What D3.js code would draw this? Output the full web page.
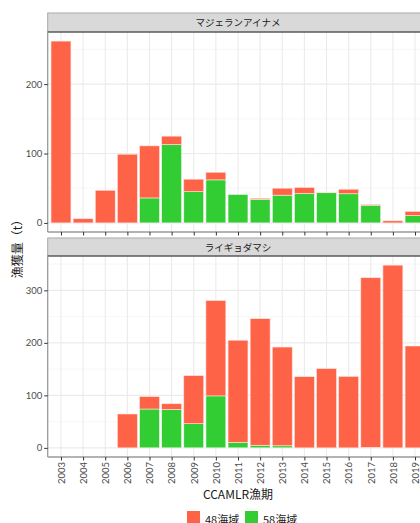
<!DOCTYPE html>
<html>
<head>
<meta charset="utf-8">
<script src="https://cdn.jsdelivr.net/npm/d3@7"></script>
<style>
  body { margin: 0; background: #fff; overflow: hidden; }
  svg { display: block; font-family: "Noto Sans CJK JP", "Lato", sans-serif; }
</style>
</head>
<body>
<svg id="chart" width="420" height="523"></svg>
<script>
// data
let years = [2003, 2004, 2005, 2006, 2007, 2008, 2009, 2010, 2011, 2012, 2013, 2014, 2015, 2016, 2017, 2018, 2019];
let toothfish48 = [262, 6, 47, 99, 75, 12, 18, 11, 0, 1.5, 10, 8.5, 0.5, 6.5, 1, 3, 6];
let toothfish58 = [0, 0, 0, 0, 36, 113, 45, 62, 41, 34, 40, 42.5, 43.5, 42, 25.5, 0, 10.5];
let icefish48 = [0, 0, 0, 64.5, 23.5, 11, 91.5, 181.5, 194.5, 241, 188, 135.5, 151, 136, 323, 348, 194];
let icefish58 = [0, 0, 0, 0, 74, 73, 46, 99, 10.5, 5, 4, 0, 0, 0, 1, 0, 0];
let panelTitles = ["マジェランアイナメ", "ライギョダマシ"];
let areaNames = ["48海域", "58海域"];
let topTicks = [0, 100, 200];
let bottomTicks = [0, 100, 200, 300];

let colors = { a48: "#FF6347", a58: "#32CD32" };

let svg = d3.select("#chart");
let left = 47.7, right = 428.3;

let step = (right - left) / (years.length - 1 + 1.2);
let x = d3.scalePoint().domain(years).range([left + 0.6 * step, right - 0.6 * step]);
let barW = step * 0.9;

function drawPanel(stripTop, stripH, panelBottom, title, v48, v58, ticks, drawXAxis) {
    let panelTop = stripTop + stripH;
    let totals = v48.map((d, i) => d + v58[i]);
    let maxV = d3.max(totals);
    let y = d3.scaleLinear().domain([-maxV * 0.05, maxV * 1.05]).range([panelBottom, panelTop]);

    let g = svg.append("g");

    // grid
    let minor = d3.range(50, maxV * 1.05, 100);
    g.selectAll("line.minor").data(minor).enter().append("line")
        .attr("x1", left).attr("x2", right)
        .attr("y1", d => y(d)).attr("y2", d => y(d))
        .attr("stroke", "#F2F2F2").attr("stroke-width", 0.6);
    g.selectAll("line.major").data(ticks).enter().append("line")
        .attr("x1", left).attr("x2", right)
        .attr("y1", d => y(d)).attr("y2", d => y(d))
        .attr("stroke", "#EBEBEB").attr("stroke-width", 1.1);
    g.selectAll("line.vgrid").data(years).enter().append("line")
        .attr("x1", d => x(d)).attr("x2", d => x(d))
        .attr("y1", panelTop).attr("y2", panelBottom)
        .attr("stroke", "#EBEBEB").attr("stroke-width", 1.1);

    // stacked bars: 58 at bottom, 48 on top
    let rows = years.map((yr, i) => ({ year: yr, a58: v58[i], a48: v48[i] }));
    g.selectAll("rect.b58").data(rows.filter(d => d.a58 > 0)).enter().append("rect")
        .attr("x", d => x(d.year) - barW / 2).attr("width", barW)
        .attr("y", d => y(d.a58)).attr("height", d => y(0) - y(d.a58))
        .attr("fill", colors.a58).attr("stroke", "#F5F5F5").attr("stroke-width", 0.6);
    g.selectAll("rect.b48").data(rows.filter(d => d.a48 > 0)).enter().append("rect")
        .attr("x", d => x(d.year) - barW / 2).attr("width", barW)
        .attr("y", d => y(d.a58 + d.a48)).attr("height", d => y(d.a58) - y(d.a58 + d.a48))
        .attr("fill", colors.a48).attr("stroke", "#FDE3DE").attr("stroke-width", 0.6);

    // strip
    g.append("rect").attr("x", left).attr("y", stripTop).attr("width", right - left + 2).attr("height", stripH)
        .attr("fill", "#D9D9D9").attr("stroke", "#A9A9A9").attr("stroke-width", 1);
    g.append("line").attr("x1", left).attr("x2", right + 2).attr("y1", panelTop).attr("y2", panelTop)
        .attr("stroke", "#333").attr("stroke-width", 1.1);
    g.append("text").attr("x", (left + right) / 2).attr("y", stripTop + stripH / 2 + 3.5)
        .attr("text-anchor", "middle").attr("font-size", 9.5).attr("fill", "#1A1A1A").text(title);

    // axes
    let yAxis = g.append("g").attr("transform", "translate(" + left + ",0)")
        .call(d3.axisLeft(y).tickValues(ticks).tickSize(3.5).tickPadding(2));
    yAxis.select(".domain").attr("d", "M0," + panelTop + "V" + panelBottom).attr("stroke", "#9A9A9A").attr("stroke-width", 1.3);
    yAxis.selectAll(".tick line").attr("stroke", "#333");
    yAxis.selectAll("text").attr("font-size", 9.5).attr("fill", "#4D4D4D").attr("font-family", "Lato, sans-serif");

    let xAxis = g.append("g").attr("transform", "translate(0," + panelBottom + ")")
        .call(d3.axisBottom(x).tickSize(3.5).tickSizeOuter(0));
    xAxis.select(".domain").attr("d", "M" + left + ",0H" + (right + 2)).attr("stroke", "#9A9A9A").attr("stroke-width", 1.3);
    xAxis.selectAll(".tick line").attr("stroke", "#333");
    if (drawXAxis) {
        xAxis.selectAll("text")
            .attr("transform", "rotate(-90)")
            .attr("text-anchor", "end")
            .attr("x", -5).attr("y", 0).attr("dy", "0.35em")
            .attr("font-size", 9.5).attr("fill", "#4D4D4D").attr("font-family", "Lato, sans-serif");
    } else {
        xAxis.selectAll("text").remove();
    }
}

drawPanel(13, 19, 232, panelTitles[0], toothfish48, toothfish58, topTicks, false);
drawPanel(238, 18, 457, panelTitles[1], icefish48, icefish58, bottomTicks, true);

// axis titles
svg.append("text").attr("transform", "translate(22,246) rotate(-90)")
    .attr("text-anchor", "middle").attr("font-size", 12).attr("fill", "#1A1A1A").text("漁獲量（t）");
svg.append("text").attr("x", (left + right) / 2).attr("y", 499)
    .attr("text-anchor", "middle").attr("font-size", 12).attr("fill", "#1A1A1A").text("CCAMLR漁期");

// legend
let legend = svg.append("g");
let legendItems = [{ name: areaNames[0], c: colors.a48, x: 187 }, { name: areaNames[1], c: colors.a58, x: 245 }];
legendItems.forEach(d => {
    legend.append("rect").attr("x", d.x).attr("y", 511).attr("width", 13).attr("height", 13).attr("fill", d.c);
    legend.append("text").attr("x", d.x + 18).attr("y", 524).attr("font-size", 11).attr("fill", "#1A1A1A").text(d.name);
});
</script>
</body>
</html>
